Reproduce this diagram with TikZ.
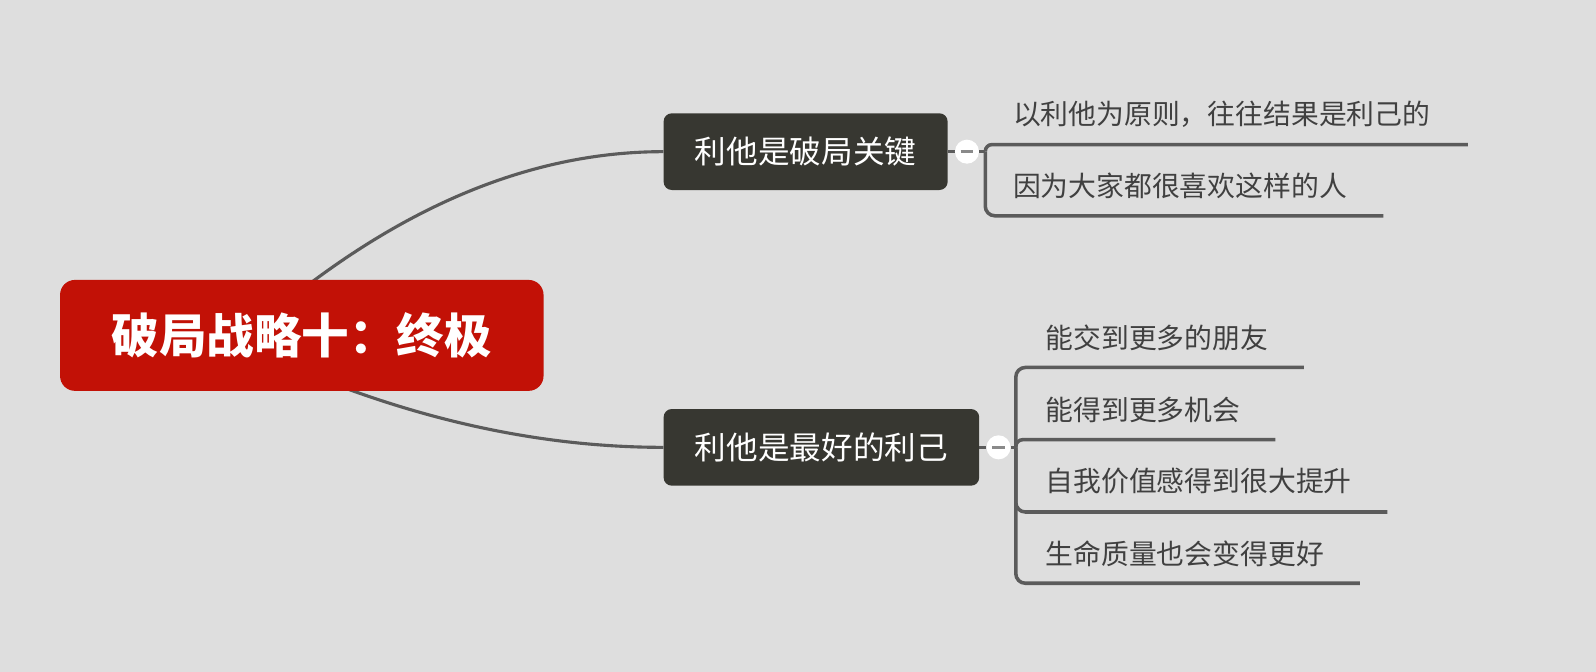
\documentclass[tikz,border=0pt]{standalone}
\usepackage{fontspec}
\newfontfamily\cjk{Noto Sans CJK SC}
\pgfdeclarelayer{bg}
\pgfdeclarelayer{edges}
\pgfsetlayers{bg,edges,main}
\definecolor{bgc}{HTML}{DEDEDE}
\definecolor{rootc}{HTML}{C21106}
\definecolor{topicc}{HTML}{373731}
\definecolor{linec}{HTML}{5B5B5B}
\definecolor{leafc}{HTML}{404040}
\definecolor{minusc}{HTML}{8A8A8A}
\tikzset{
  rootbox/.style={fill=rootc, rounded corners=11pt, inner sep=0pt,
    minimum width=356.25pt, minimum height=81.75pt, text=white,
    font=\cjk\bfseries\fontsize{35pt}{40pt}\selectfont},
  topicbox/.style={fill=topicc, rounded corners=6pt, inner sep=0pt,
    minimum height=56.5pt, text=white,
    font=\cjk\fontsize{23.3pt}{28pt}\selectfont},
  leaf/.style={anchor=west, inner sep=0pt, text=leafc,
    font=\cjk\fontsize{20.5pt}{24pt}\selectfont},
  edge/.style={draw=linec, line width=2.3pt},
  brk/.style={draw=linec, line width=2.6pt},
  collapse/.style={circle, fill=white, inner sep=0pt, minimum size=17.7pt},
}
\begin{document}
\begin{tikzpicture}[x=0.75pt,y=-0.75pt]
\begin{pgfonlayer}{bg}
\fill[bgc] (0,0) rectangle (1568,660);
\end{pgfonlayer}
\useasboundingbox (0,0) rectangle (1568,660);

% root and topics
\node[rootbox] (root) at (296.5,329.5) {破局战略十：终极};
\node[topicbox, minimum width=209.25pt] (t1) at (791.5,149) {利他是破局关键};
\node[topicbox, minimum width=232.5pt] (t2) at (807,439.5) {利他是最好的利己};

% collapse buttons
\node[collapse] (c1) at (950,149) {};
\node[collapse] (c2) at (981,439.5) {};
\draw[minusc, line width=1.8pt] ([xshift=-4.7pt]c1.center) -- ([xshift=4.7pt]c1.center);
\draw[minusc, line width=1.8pt] ([xshift=-4.7pt]c2.center) -- ([xshift=4.7pt]c2.center);

% junctions
\coordinate (j1) at (968,149);
\coordinate (j2) at (998,439.5);
\coordinate (s1) at (296,285);
\coordinate (s2) at (296,364.5);

% leaves
\node[leaf] (l11) at (995,112) {以利他为原则，往往结果是利己的};
\node[leaf] (l12) at (995,183) {因为大家都很喜欢这样的人};
\node[leaf] (l21) at (1027,332) {能交到更多的朋友};
\node[leaf] (l22) at (1027,403) {能得到更多机会};
\node[leaf] (l23) at (1027,473) {自我价值感得到很大提升};
\node[leaf] (l24) at (1027,544) {生命质量也会变得更好};

\coordinate (e11) at (1442,142);
\coordinate (e12) at (1359,212);
\coordinate (e21) at (1281,361);
\coordinate (e22) at (1253,432);
\coordinate (e23) at (1363,503);
\coordinate (e24) at (1336,573);

\begin{pgfonlayer}{edges}
\draw[edge] (s1) .. controls (414.7,193.7) and (533.3,149) .. (t1.west);
\draw[edge] (s2) .. controls (414.7,413.5) and (533.3,439.5) .. (t2.west);
\draw[edge] (t1.east) -- (c1.west);
\draw[edge] (t2.east) -- (c2.west);
\draw[brk] (c1.east) -- (j1);
\draw[brk] (c2.east) -- (j2);
\draw[brk, rounded corners=5pt] (j1) |- (e11);
\draw[brk, rounded corners=7pt] (j1) |- (e12);
\draw[brk, rounded corners=7pt] (j2) |- (e21);
\draw[brk, rounded corners=5pt] (j2) |- (e22);
\draw[brk, rounded corners=7pt] (j2) |- (e23);
\draw[brk, rounded corners=7pt] (j2) |- (e24);
\end{pgfonlayer}
\end{tikzpicture}
\end{document}
